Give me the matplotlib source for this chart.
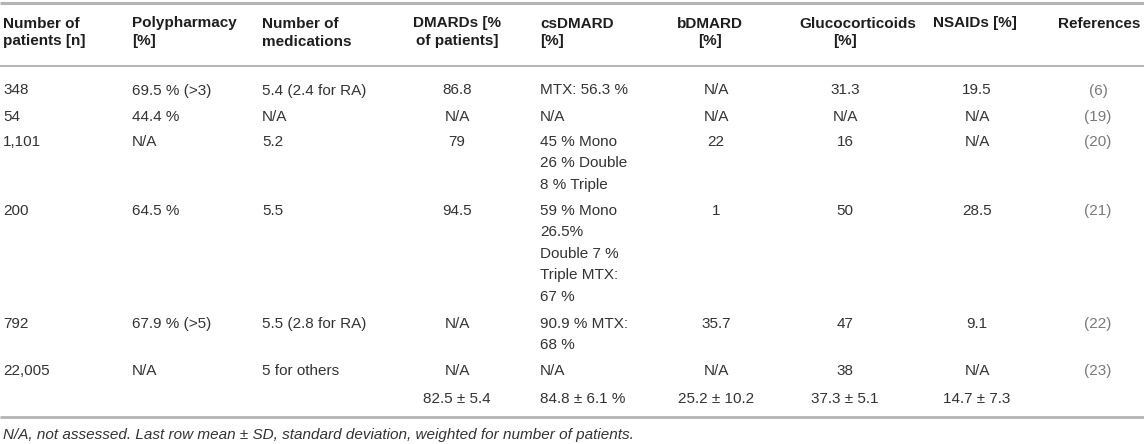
import matplotlib
matplotlib.use("Agg")
import matplotlib.pyplot as plt

plt.rcParams['font.family'] = ['Liberation Sans', 'DejaVu Sans']

# table content
headers = [
    ["Number of", "patients [n]"],
    ["Polypharmacy", "[%]"],
    ["Number of", "medications"],
    ["DMARDs [%", "of patients]"],
    ["csDMARD", "[%]"],
    ["bDMARD", "[%]"],
    ["Glucocorticoids", "[%]"],
    ["NSAIDs [%]"],
    ["References"],
]

n_patients = ["348", "54", "1,101", "200", "792", "22,005", ""]
polypharmacy = ["69.5 % (>3)", "44.4 %", "N/A", "64.5 %", "67.9 % (>5)", "N/A", ""]
n_medications = ["5.4 (2.4 for RA)", "N/A", "5.2", "5.5", "5.5 (2.8 for RA)", "5 for others", ""]
dmards = ["86.8", "N/A", "79", "94.5", "N/A", "N/A", "82.5 \u00b1 5.4"]
csdmard = [
    ["MTX: 56.3 %"],
    ["N/A"],
    ["45 % Mono", "26 % Double", "8 % Triple"],
    ["59 % Mono", "26.5%", "Double 7 %", "Triple MTX:", "67 %"],
    ["90.9 % MTX:", "68 %"],
    ["N/A"],
    ["84.8 \u00b1 6.1 %"],
]
bdmard = ["N/A", "N/A", "22", "1", "35.7", "N/A", "25.2 \u00b1 10.2"]
glucocorticoids = ["31.3", "N/A", "16", "50", "47", "38", "37.3 \u00b1 5.1"]
nsaids = ["19.5", "N/A", "N/A", "28.5", "9.1", "N/A", "14.7 \u00b1 7.3"]
references = ["(6)", "(19)", "(20)", "(21)", "(22)", "(23)", ""]

footnote = ("N/A, not assessed. Last row mean \u00b1 SD, standard deviation, "
            "weighted for number of patients.")

# layout in pixels
W, H = 1144, 444
row_y = [89, 115, 140, 209, 322, 369, 397]
line_step = 21.5
col_x = [3, 132, 262, 457, 540, 716, 845, 977, 1098]
col_ha = ['left', 'left', 'left', 'center', 'left', 'center', 'center', 'center', 'center']
head_x = [[3, 3], [132, 132], [262, 262], [457, 457], [540, 540],
          [710, 710], [858, 845], [975], [1099]]
head_y = [22, 40]
fs = 11
base_off = 5.5

text_col = '#333333'
head_col = '#1e1e1e'
ref_col = '#7a7a7a'
rule_col = '#b4b4b4'

fig = plt.figure(figsize=(W / 100, H / 100), dpi=100)
ax = fig.add_axes([0, 0, 1, 1])
ax.set_xlim(0, W)
ax.set_ylim(H, 0)
ax.axis('off')

# rules
ax.plot([0, W], [3, 3], color=rule_col, lw=2.2, solid_capstyle='butt')
ax.plot([0, W], [66, 66], color=rule_col, lw=1.4, solid_capstyle='butt')
ax.plot([0, W], [417, 417], color=rule_col, lw=2.0, solid_capstyle='butt')

# header
for j, lines in enumerate(headers):
    for k, t in enumerate(lines):
        ax.text(head_x[j][k], head_y[k] + base_off, t, ha=col_ha[j], va='baseline',
                fontsize=fs, fontweight='bold', color=head_col)

# body
columns = [n_patients, polypharmacy, n_medications, dmards, csdmard,
           bdmard, glucocorticoids, nsaids, references]
for j, col in enumerate(columns):
    for i, cell in enumerate(col):
        lines = cell if isinstance(cell, list) else [cell]
        for k, t in enumerate(lines):
            if not t:
                continue
            ax.text(col_x[j], row_y[i] + k * line_step + base_off, t,
                    ha=col_ha[j], va='baseline', fontsize=fs,
                    color=ref_col if j == 8 else text_col)

ax.text(3, 433 + base_off, footnote, ha='left', va='baseline', fontsize=fs,
        style='italic', color=text_col)

fig.savefig("out.png", dpi=100)
